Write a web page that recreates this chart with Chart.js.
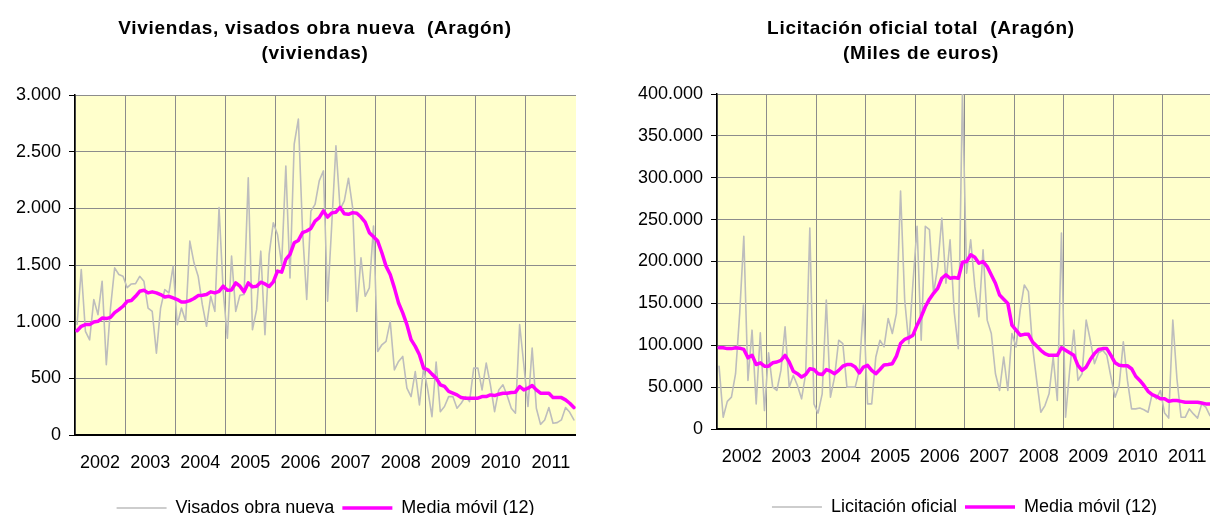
<!DOCTYPE html>
<html>
<head>
<meta charset="utf-8">
<script src="https://cdn.jsdelivr.net/npm/chart.js@4/dist/chart.umd.min.js"></script>
<style>
html, body { margin: 0; padding: 0; background: #fff; overflow: hidden; width: 1210px; height: 515px; }
.box { position: absolute; top: 0; height: 515px; }
</style>
</head>
<body>
<div class="box" style="left:0px"><canvas id="c1" width="576" height="515"></canvas></div>
<div class="box" style="left:605px"><canvas id="c2" width="607" height="515"></canvas></div>
<script>
// monthly series, one value per month, first block = 2002
const years = ['2002', '2003', '2004', '2005', '2006', '2007', '2008', '2009', '2010', '2011'];

const visados = [
    975, 1460, 915, 840, 1195, 1062, 1357, 620, 1120, 1475, 1416, 1400,
    1300, 1333, 1336, 1400, 1357, 1120, 1090, 722, 1120, 1283, 1254, 1490,
    973, 1120, 1003, 1711, 1519, 1401, 1150, 959, 1224, 1091, 2006, 1268,
    855, 1578, 1091, 1233, 1239, 2270, 929, 1106, 1622, 885, 1593, 1873,
    1770, 1504, 2374, 1386, 2566, 2788, 1800, 1195, 1976, 2035, 2242, 2330,
    1180, 1858, 2552, 1991, 2065, 2266, 2006, 1091, 1563, 1224, 1298, 1844,
    737, 796, 826, 1003, 575, 649, 693, 413, 339, 560, 265, 590,
    398, 162, 643, 206, 251, 339, 339, 236, 280, 339, 295, 590,
    590, 398, 634, 443, 206, 398, 443, 348, 236, 192, 974, 620,
    251, 767, 236, 94, 133, 242, 103, 109, 133, 242, 200, 133
];
const visadosMedia = [
    920, 959, 974, 974, 997, 1003, 1032, 1027, 1038, 1080, 1106, 1136,
    1180, 1186, 1224, 1268, 1277, 1254, 1263, 1254, 1239, 1218, 1224, 1209,
    1195, 1174, 1174, 1186, 1204, 1230, 1233, 1239, 1263, 1254, 1268, 1313,
    1277, 1280, 1342, 1313, 1263, 1342, 1307, 1313, 1348, 1333, 1310, 1351,
    1446, 1437, 1549, 1593, 1696, 1717, 1785, 1800, 1823, 1888, 1918, 1977,
    1923, 1960, 1966, 2008, 1953, 1947, 1962, 1956, 1923, 1879, 1785, 1749,
    1711, 1608, 1490, 1416, 1298, 1165, 1077, 974, 841, 782, 708, 590,
    575, 537, 502, 443, 428, 384, 369, 354, 330, 325, 325, 325,
    325, 339, 339, 354, 348, 360, 369, 369, 375, 378, 428, 398,
    413, 437, 398, 369, 369, 369, 330, 330, 330, 310, 280, 242
];

const licitacion = [
    75000, 14000, 33000, 38000, 66000, 138000, 230000, 58000, 118000, 30000, 115000, 22000,
    91000, 50000, 46000, 70000, 122000, 50000, 64000, 52000, 36000, 66000, 240000, 30000,
    19000, 42000, 154000, 38000, 62000, 106000, 102000, 50000, 50000, 50000, 70000, 148000,
    30000, 30000, 86000, 106000, 98000, 132000, 114000, 138000, 284000, 154000, 102000, 174000,
    242000, 106000, 242000, 238000, 162000, 194000, 252000, 174000, 226000, 140000, 96000, 403000,
    186000, 226000, 170000, 134000, 214000, 130000, 114000, 66000, 46000, 86000, 46000, 114000,
    98000, 142000, 172000, 164000, 98000, 58000, 20000, 28000, 42000, 86000, 34000, 234000,
    14000, 70000, 118000, 58000, 66000, 130000, 106000, 78000, 91000, 94000, 88000, 62000,
    38000, 52000, 104000, 58000, 24000, 24000, 25000, 23000, 20000, 42000, 36000, 46000,
    19000, 13000, 130000, 60000, 14000, 14000, 24000, 18000, 13000, 30000, 26000, 16000
];
const licitacionMedia = [
    97000, 97000, 96000, 96000, 97000, 96500, 95000, 85000, 88000, 77000, 79000, 75000,
    75000, 79000, 80000, 82000, 88000, 80000, 69000, 66000, 62000, 65000, 72000, 71000,
    66000, 65000, 71000, 69000, 66000, 70000, 75000, 77000, 77000, 74000, 67000, 74000,
    76000, 70000, 66000, 71000, 76500, 77000, 78000, 87000, 102000, 107000, 109000, 112000,
    124000, 134000, 146000, 155000, 162000, 168000, 180000, 184000, 180000, 181000, 180000, 199000,
    200000, 208000, 205000, 198000, 200000, 194000, 184000, 174000, 160000, 155000, 150000, 124000,
    118000, 112000, 113000, 113000, 104000, 99000, 94000, 90000, 88000, 88000, 88000, 97000,
    94000, 91000, 88000, 76000, 70000, 74000, 83000, 90000, 95000, 96000, 96000, 88000,
    79000, 76000, 75500, 75500, 72000, 63000, 58000, 52000, 45000, 41000, 39000, 36000,
    36000, 33000, 34000, 34000, 33000, 32000, 32000, 32000, 32000, 31000, 30000, 30000
];

const FONT = '"Liberation Sans", Arial, sans-serif';
Chart.defaults.font.family = FONT;
Chart.defaults.color = '#000';

function miles(v) {
    return String(v).replace(/\B(?=(\d{3})+(?!\d))/g, '.');
}

function points(arr) {
    return arr.map((v, i) => ({ x: i + 0.5, y: v }));
}

// yellow plot area
const plotBg = {
    id: 'plotBg',
    beforeDraw(chart) {
        const a = chart.chartArea;
        const ctx = chart.ctx;
        ctx.save();
        ctx.fillStyle = '#FFFFCC';
        ctx.fillRect(a.left, a.top, a.right - a.left, a.bottom - a.top);
        ctx.restore();
    }
};

// two-line title, centred where the original had it (not on the plot)
const headline = {
    id: 'headline',
    afterDraw(chart, args, opts) {
        const ctx = chart.ctx;
        ctx.save();
        ctx.font = 'bold 19px ' + FONT;
        ctx.letterSpacing = '0.7px';
        ctx.fillStyle = '#000';
        ctx.textAlign = 'center';
        ctx.textBaseline = 'middle';
        opts.lines.forEach((t, i) => ctx.fillText(t, opts.x, opts.y + i * 25));
        ctx.letterSpacing = '0px';
        ctx.restore();
    }
};

function make_chart(id, c) {
    return new Chart(document.getElementById(id), {
        type: 'line',
        data: {
            datasets: [
                { label: c.rawLabel, data: points(c.raw), borderColor: '#BDBDBD', borderWidth: 1.6, order: 1 },
                { label: 'Media móvil (12)', data: points(c.ma), borderColor: '#FF00FF', borderWidth: 3.5, order: 0 }
            ]
        },
        options: {
            responsive: false,
            animation: false,
            elements: {
                point: { radius: 0 },
                line: { tension: 0, borderJoinStyle: 'round', borderCapStyle: 'round' }
            },
            // negative bottom padding lets the legend sit as low as in the original
            layout: { padding: { left: c.padL, right: 0, top: c.top, bottom: c.padB } },
            plugins: {
                headline: { lines: c.title, x: c.titleX, y: 28.5 },
                legend: {
                    position: 'bottom',
                    fullSize: false,
                    labels: {
                        usePointStyle: true,
                        pointStyle: 'line',
                        pointStyleWidth: 50,
                        padding: 8,
                        color: '#000',
                        font: { size: 18 },
                        sort: (a, b) => a.datasetIndex - b.datasetIndex
                    }
                },
                tooltip: { enabled: false }
            },
            scales: {
                x: {
                    type: 'linear',
                    min: 0,
                    max: 120,
                    afterFit: s => {
                        s.height = c.xH;
                        s.paddingLeft = 0;
                        s.paddingRight = 0;
                    },
                    ticks: {
                        stepSize: 6,
                        autoSkip: false,
                        maxRotation: 0,
                        padding: 17,
                        font: { size: 18 },
                        callback: v => (v % 12 === 6 ? years[(v - 6) / 12] : '')
                    },
                    grid: {
                        drawTicks: false,
                        color: ctx => (ctx.tick && ctx.tick.value % 12 === 0 ? '#8c8c8c' : 'rgba(0,0,0,0)')
                    },
                    border: { color: '#000', width: 2 }
                },
                y: {
                    min: 0,
                    max: c.yMax,
                    afterFit: s => { s.width = c.yW; },
                    ticks: { stepSize: c.step, padding: 8, font: { size: 18 }, callback: v => miles(v) },
                    grid: { color: '#8c8c8c', tickColor: '#000', tickLength: 6 },
                    border: { color: '#000', width: 1.5 }
                }
            }
        },
        plugins: [plotBg, headline]
    });
}

make_chart('c1', {
    title: ['Viviendas, visados obra nueva  (Aragón)', '(viviendas)'],
    titleX: 315,
    rawLabel: 'Visados obra nueva',
    raw: visados,
    ma: visadosMedia,
    yMax: 3000,
    step: 500,
    padL: 0,
    yW: 75,
    top: 95,
    padB: -12,
    xH: 56
});

make_chart('c2', {
    title: ['Licitación oficial total  (Aragón)', '(Miles de euros)'],
    titleX: 316,
    rawLabel: 'Licitación oficial',
    raw: licitacion,
    ma: licitacionMedia,
    yMax: 400000,
    step: 50000,
    padL: 19,
    yW: 93,
    top: 94,
    padB: -11,
    xH: 61
});
</script>
</body>
</html>
